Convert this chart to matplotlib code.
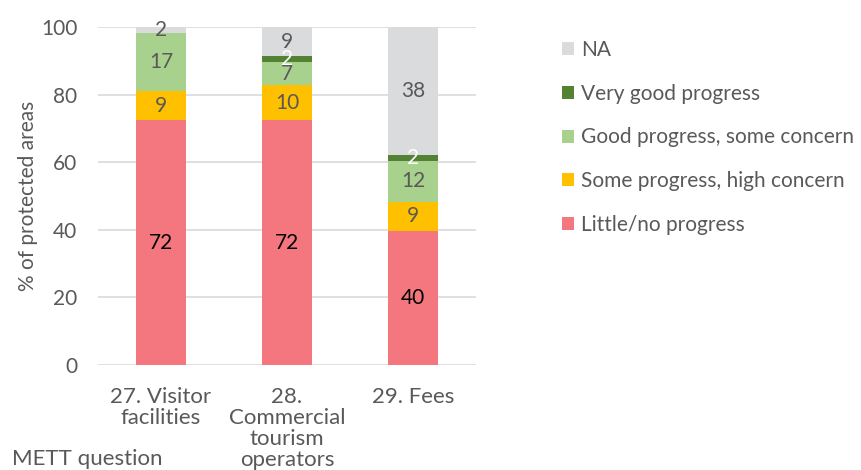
import matplotlib.pyplot as plt
import numpy as np

plt.rcParams["font.family"] = ["Lato", "DejaVu Sans"]

# data (percent of protected areas)
questions = ["27. Visitor\nfacilities", "28.\nCommercial\ntourism\noperators", "29. Fees"]
categories = [
    "Little/no progress",
    "Some progress, high concern",
    "Good progress, some concern",
    "Very good progress",
    "NA",
]
little = [72.4, 72.4, 39.7]
some = [8.6, 10.3, 8.6]
good = [17.2, 6.9, 12.1]
very_good = [0.0, 1.7, 1.7]
na = [1.8, 8.7, 37.9]

colors = ["#F4777F", "#FFC000", "#A9D18E", "#548235", "#DADBDD"]
label_colors = ["black", "#595959", "#595959", "white", "#595959"]
text_gray = "#595959"


def main():
    fig = plt.figure(figsize=(8.61, 4.70), dpi=100)
    ax = fig.add_axes([0.1138, 0.2234, 0.4391, 0.7192])

    series = [little, some, good, very_good, na]
    x = np.arange(len(questions))
    bottom = np.zeros(len(questions))
    handles = []
    for vals, name, col, lcol in zip(series, categories, colors, label_colors):
        vals = np.array(vals)
        bars = ax.bar(x, vals, 0.4, bottom=bottom, color=col, label=name, zorder=2)
        handles.append(bars)
        for xi, v, b in zip(x, vals, bottom):
            if v > 0:
                ax.text(xi, b + v / 2, f"{v:.0f}", ha="center", va="center",
                        fontsize=15, color=lcol, zorder=3)
        bottom += vals

    ax.set_xlim(-0.5, 2.5)
    ax.set_ylim(0, 100)
    ax.set_yticks(range(0, 101, 20))
    ax.yaxis.grid(True, color="#D9D9D9", lw=1.2, zorder=0)
    ax.set_axisbelow(True)
    for s in ax.spines.values():
        s.set_visible(False)
    ax.tick_params(length=0, labelsize=15, labelcolor=text_gray)
    ax.tick_params(axis="x", pad=16, labelsize=16)
    ax.tick_params(axis="y", pad=15)
    ax.set_xticks(x)
    ax.set_xticklabels(questions, linespacing=1.05, va="top")
    ax.set_ylabel("% of protected areas", fontsize=15, color=text_gray, labelpad=2)

    fig.text(0.014, 0.011, "METT question", fontsize=16, color=text_gray,
             ha="left", va="baseline")

    fig.legend(handles[::-1], categories[::-1], loc="upper left",
               bbox_to_anchor=(0.653, 0.915), frameon=False, fontsize=15,
               labelcolor=text_gray, handlelength=0.58, handleheight=0.58,
               handletextpad=0.34, labelspacing=1.14, borderpad=0,
               borderaxespad=0)

    fig.savefig("out.png", dpi=100)


if __name__ == "__main__":
    main()
